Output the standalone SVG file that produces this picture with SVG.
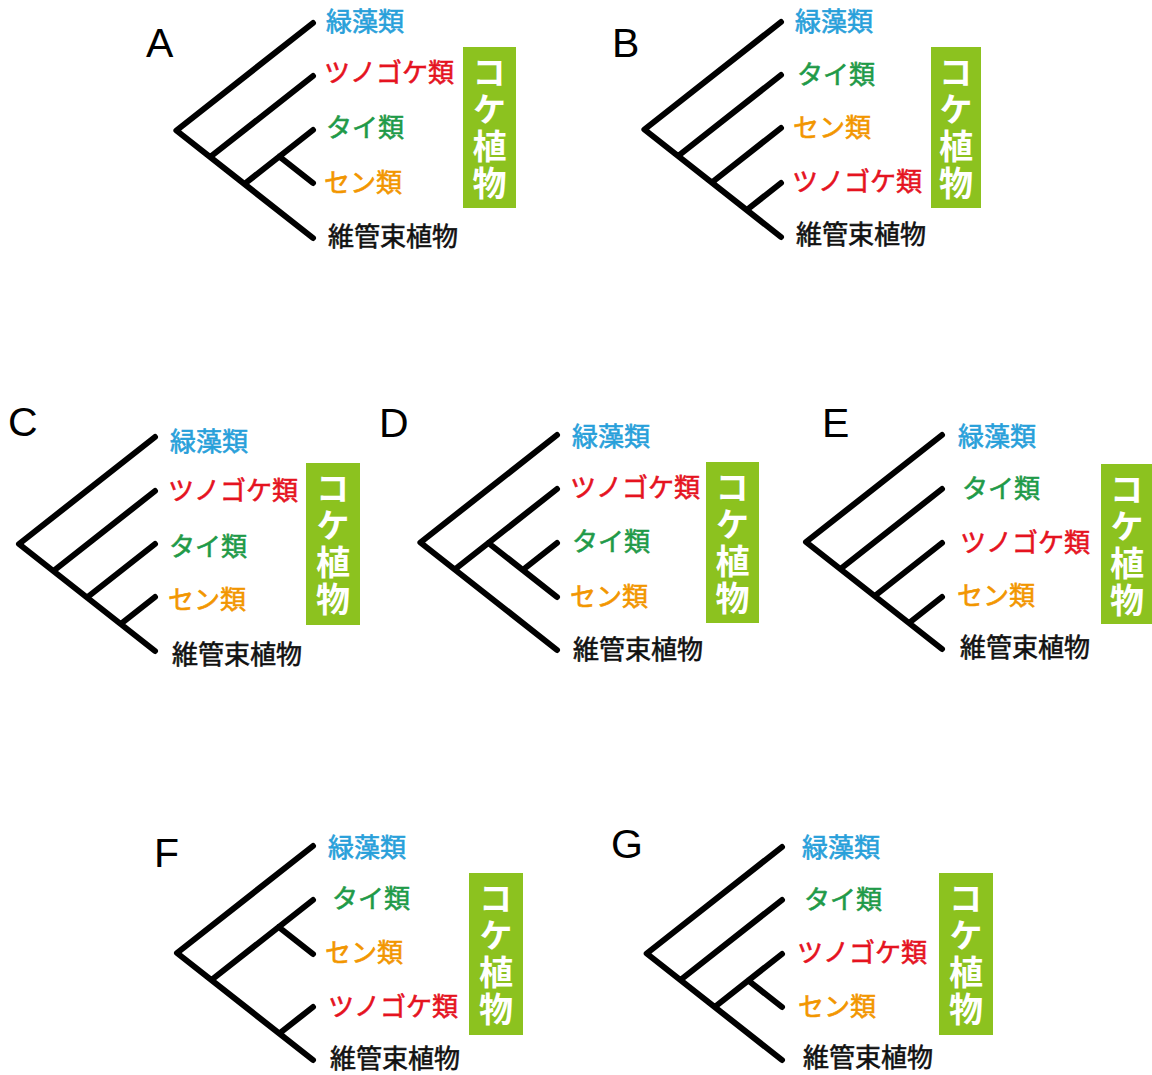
<svg xmlns="http://www.w3.org/2000/svg" width="1152" height="1075" viewBox="0 0 1152 1075">
<style>
.bg{fill:#ffffff}
.edge{fill:none;stroke:#000;stroke-width:6;stroke-linecap:round;stroke-linejoin:round}
.lbl{font-family:"Noto Sans CJK JP","Noto Sans CJK SC",sans-serif;font-size:26px;font-weight:400;stroke-width:0.6}
.blue{fill:#28a0da;stroke:#28a0da}
.red{fill:#e5131f;stroke:#e5131f}
.green{fill:#1f9a48;stroke:#1f9a48}
.orange{fill:#f29600;stroke:#f29600}
.black{fill:#111;stroke:#111}
.box{fill:#8cc21f}
.boxt{font-family:"Noto Sans CJK JP",sans-serif;font-size:34px;font-weight:bold;fill:#fff;writing-mode:vertical-rl;letter-spacing:3px}
.letter{font-family:"Liberation Sans",Arial,sans-serif;font-size:41px;fill:#000}
</style>
<rect class="bg" x="0" y="0" width="1152" height="1075"/>

<!-- Panel A -->
<g id="panel-A">
  <text class="letter" x="146" y="57">A</text>
  <g id="A-connectors"><path class="edge" d="M313,23 L176.4,130.5 L313,238 M210.1,157 L313,76 M244.4,184 L313,130 M279.3,156.5 L313,183"/></g>
  <g id="A-ryokuso"><text class="lbl blue" x="326" y="31">緑藻類</text></g>
  <g id="A-tsunogoke"><text class="lbl red" x="324" y="82">ツノゴケ類</text></g>
  <g id="A-tai"><text class="lbl green" x="326" y="137">タイ類</text></g>
  <g id="A-sen"><text class="lbl orange" x="324" y="192">セン類</text></g>
  <g id="A-ikansoku"><text class="lbl black" x="328" y="246">維管束植物</text></g>
  <g id="A-koke"><rect class="box" x="463" y="47" width="53" height="161"/>
    <text class="boxt" x="489.5" y="55">コケ植物</text></g>
</g>

<!-- Panel B -->
<g id="panel-B">
  <text class="letter" x="612" y="57">B</text>
  <g id="B-connectors"><path class="edge" d="M781,22 L644.4,129.5 L781,237 M678.1,156 L781,75 M711.8,182.5 L781,128 M746.7,210 L781,183"/></g>
  <g id="B-ryokuso"><text class="lbl blue" x="795" y="31">緑藻類</text></g>
  <g id="B-tai"><text class="lbl green" x="797" y="84">タイ類</text></g>
  <g id="B-sen"><text class="lbl orange" x="793" y="137">セン類</text></g>
  <g id="B-tsunogoke"><text class="lbl red" x="792" y="191">ツノゴケ類</text></g>
  <g id="B-ikansoku"><text class="lbl black" x="796" y="244">維管束植物</text></g>
  <g id="B-koke"><rect class="box" x="931" y="47" width="50" height="161"/>
    <text class="boxt" x="956" y="55">コケ植物</text></g>
</g>

<!-- Panel C -->
<g id="panel-C">
  <text class="letter" x="8" y="436">C</text>
  <g id="C-connectors"><path class="edge" d="M155,437 L19,544 L155,651 M53.4,571 L155,491 M87,597.5 L155,544 M120.7,624 L155,597"/></g>
  <g id="C-ryokuso"><text class="lbl blue" x="170" y="451">緑藻類</text></g>
  <g id="C-tsunogoke"><text class="lbl red" x="168" y="500">ツノゴケ類</text></g>
  <g id="C-tai"><text class="lbl green" x="169" y="556">タイ類</text></g>
  <g id="C-sen"><text class="lbl orange" x="168" y="609">セン類</text></g>
  <g id="C-ikansoku"><text class="lbl black" x="172" y="664">維管束植物</text></g>
  <g id="C-koke"><rect class="box" x="306" y="463" width="54" height="162"/>
    <text class="boxt" x="333" y="471">コケ植物</text></g>
</g>

<!-- Panel D -->
<g id="panel-D">
  <text class="letter" x="379" y="437">D</text>
  <g id="D-connectors"><path class="edge" d="M557,435 L420.4,542.5 L557,650 M454.7,569.5 L557,489 M488.4,543 L557,597 M522.7,570 L557,543"/></g>
  <g id="D-ryokuso"><text class="lbl blue" x="572" y="446">緑藻類</text></g>
  <g id="D-tsunogoke"><text class="lbl red" x="570" y="497">ツノゴケ類</text></g>
  <g id="D-tai"><text class="lbl green" x="572" y="551">タイ類</text></g>
  <g id="D-sen"><text class="lbl orange" x="570" y="606">セン類</text></g>
  <g id="D-ikansoku"><text class="lbl black" x="573" y="659">維管束植物</text></g>
  <g id="D-koke"><rect class="box" x="706" y="462" width="53" height="161"/>
    <text class="boxt" x="732.5" y="470">コケ植物</text></g>
</g>

<!-- Panel E -->
<g id="panel-E">
  <text class="letter" x="822" y="437">E</text>
  <g id="E-connectors"><path class="edge" d="M942,435 L806,542 L942,649 M840.4,569 L942,489 M874.7,596 L942,543 M909,623 L942,597"/></g>
  <g id="E-ryokuso"><text class="lbl blue" x="958" y="446">緑藻類</text></g>
  <g id="E-tai"><text class="lbl green" x="962" y="498">タイ類</text></g>
  <g id="E-tsunogoke"><text class="lbl red" x="960" y="552">ツノゴケ類</text></g>
  <g id="E-sen"><text class="lbl orange" x="957" y="605">セン類</text></g>
  <g id="E-ikansoku"><text class="lbl black" x="960" y="657">維管束植物</text></g>
  <g id="E-koke"><rect class="box" x="1101" y="464" width="51" height="160"/>
    <text class="boxt" x="1127" y="472">コケ植物</text></g>
</g>

<!-- Panel F -->
<g id="panel-F">
  <text class="letter" x="154" y="867">F</text>
  <g id="F-connectors"><path class="edge" d="M313,846 L177,953 L313,1060 M211.4,980 L313,900 M278.7,927 L313,954 M279.3,1033.5 L313,1007"/></g>
  <g id="F-ryokuso"><text class="lbl blue" x="328" y="857">緑藻類</text></g>
  <g id="F-tai"><text class="lbl green" x="332" y="908">タイ類</text></g>
  <g id="F-sen"><text class="lbl orange" x="325" y="962">セン類</text></g>
  <g id="F-tsunogoke"><text class="lbl red" x="328" y="1016">ツノゴケ類</text></g>
  <g id="F-ikansoku"><text class="lbl black" x="330" y="1068">維管束植物</text></g>
  <g id="F-koke"><rect class="box" x="469" y="873" width="54" height="162"/>
    <text class="boxt" x="496" y="881">コケ植物</text></g>
</g>

<!-- Panel G -->
<g id="panel-G">
  <text class="letter" x="611" y="858">G</text>
  <g id="G-connectors"><path class="edge" d="M782,847 L646.7,953.5 L782,1060 M680.4,980 L782,900 M714.7,1007 L782,954 M748.3,980.5 L782,1007"/></g>
  <g id="G-ryokuso"><text class="lbl blue" x="802" y="857">緑藻類</text></g>
  <g id="G-tai"><text class="lbl green" x="804" y="909">タイ類</text></g>
  <g id="G-tsunogoke"><text class="lbl red" x="797" y="962">ツノゴケ類</text></g>
  <g id="G-sen"><text class="lbl orange" x="798" y="1016">セン類</text></g>
  <g id="G-ikansoku"><text class="lbl black" x="803" y="1067">維管束植物</text></g>
  <g id="G-koke"><rect class="box" x="939" y="873" width="54" height="162"/>
    <text class="boxt" x="966" y="881">コケ植物</text></g>
</g>
</svg>
